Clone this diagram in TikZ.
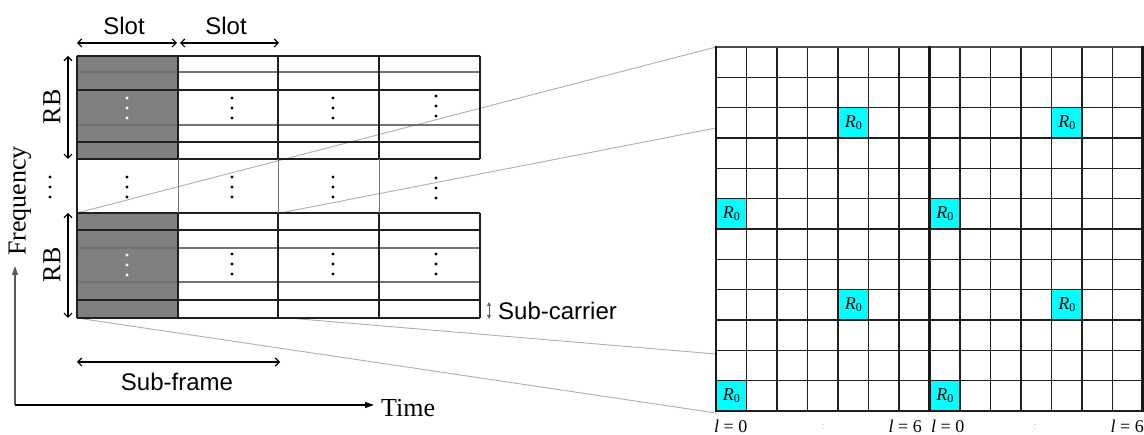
\documentclass[tikz,border=0pt]{standalone}
\usepackage{fontspec}
\setmainfont{Liberation Serif}
\newfontfamily\sansfam{Liberation Sans}
\usetikzlibrary{arrows.meta}
\definecolor{rbshade}{RGB}{128,128,128}
\definecolor{zoomgray}{RGB}{175,175,175}
\definecolor{pilot}{RGB}{0,255,255}
\definecolor{midgray}{RGB}{115,115,115}
\newcommand{\Rzero}{{\fontsize{18}{18}\selectfont\itshape R}\raisebox{-0.45ex}{\fontsize{12}{12}\selectfont 0}}
\begin{document}
\begin{tikzpicture}[x=1pt,y=-1pt,
  gridline/.style={line width=1.3pt,black!88},
  softline/.style={line width=1.6pt,midgray},
  boldline/.style={line width=2.6pt,black!90},
  zoomline/.style={line width=0.9pt,zoomgray},
  dimarrow/.style={line width=1.2pt,{Straight Barb[length=4pt,width=8pt]}-{Straight Barb[length=4pt,width=8pt]}},
  axisarrow/.style={line width=1.2pt,-{Triangle[length=9pt,width=6pt]}},
  sanslabel/.style={font=\sansfam\fontsize{24}{24}\selectfont,inner sep=0pt},
  seriflabel/.style={font=\fontsize{26}{26}\selectfont,inner sep=0pt},
  idxlabel/.style={font=\fontsize{18}{18}\selectfont,inner sep=0pt},
  pilotcell/.style={minimum width=30.5pt,minimum height=30.33pt,inner sep=0pt,fill=pilot},
  vd/.pic={\fill (0,-10) circle (1.7pt) (0,0) circle (1.7pt) (0,10) circle (1.7pt);},
]
\useasboundingbox (0,0) rectangle (1144,435);

% ---- zoom guide lines (drawn first, grids go on top) ----
\coordinate (rb2-tl) at (77,213);
\coordinate (rb2-tm) at (280,213);
\coordinate (rb2-bl) at (77,318);
\coordinate (rb2-bm) at (288,318);
\coordinate (g-a) at (716,47);
\coordinate (g-b) at (716,128);
\coordinate (g-c) at (716,413);
\coordinate (g-d) at (716,354);
\draw[zoomline] (rb2-tl) -- (g-a);
\draw[zoomline] (rb2-tm) -- (g-b);
\draw[zoomline] (rb2-bl) -- (g-c);
\draw[zoomline] (rb2-bm) -- (g-d);

% ---- resource blocks (left) ----
\fill[rbshade] (77,56) rectangle (178,159);
\fill[rbshade] (77,213) rectangle (178,318);
% sub-carrier lines inside the two RBs
\foreach \y in {72,125,248,282} \draw[softline] (77,\y) -- (480,\y);
\foreach \y in {90,142,230,300} \draw[gridline] (77,\y) -- (480,\y);
% outer and slot borders
\foreach \y in {56,159,213,318} \draw[gridline] (77,\y) -- (480,\y);
\draw[gridline] (77,56) -- (77,318);
\foreach \x in {178,278,379,480} {
  \draw[gridline] (\x,56) -- (\x,159);
  \draw[gridline] (\x,213) -- (\x,318);
}
\foreach \x in {178,278,379} \draw[line width=1pt,black!55] (\x,159) -- (\x,213);

% vertical ellipses
\pic[white] at (127,108) {vd};
\pic[white] at (127,265) {vd};
\foreach \x/\y in {232/108,333/108,436/106,
                   127/187,232/187,333/187,436/188,
                   232/264,333/264,436/264,
                   50/187} \pic at (\x,\y) {vd};

% ---- dimension arrows and labels ----
\coordinate (s1a) at (77,43);  \coordinate (s1b) at (177,43);
\coordinate (s2a) at (180,43); \coordinate (s2b) at (279,43);
\draw[dimarrow] (s1a) -- (s1b);
\draw[dimarrow] (s2a) -- (s2b);
\node[sanslabel] (slot1) at (124,26) {Slot};
\node[sanslabel] (slot2) at (226,26) {Slot};

\coordinate (rb1a) at (68,56);  \coordinate (rb1b) at (68,159);
\coordinate (rb2a) at (68,213); \coordinate (rb2b) at (68,318);
\draw[dimarrow] (rb1a) -- (rb1b);
\draw[dimarrow] (rb2a) -- (rb2b);
\node[seriflabel,rotate=90] (rblab1) at (52,107) {RB};
\node[seriflabel,rotate=90] (rblab2) at (52,265) {RB};

\coordinate (sf-a) at (77,362); \coordinate (sf-b) at (280,362);
\draw[dimarrow] (sf-a) -- (sf-b);
\node[sanslabel] (subframe) at (177,382) {Sub-frame};

\coordinate (sc-a) at (489,302); \coordinate (sc-b) at (489,319);
\draw[line width=1pt,black!60,{Triangle[length=4pt,width=4pt]}-{Triangle[length=4pt,width=4pt]}] (sc-a) -- (sc-b);
\node[sanslabel,anchor=west] (subcarrier) at (498,311) {Sub-carrier};

% ---- axes ----
\coordinate (origin) at (15,405);
\coordinate (f-end) at (15,266);
\coordinate (t-end) at (374,405);
\draw[axisarrow,black!65] (origin) -- (f-end);
\draw[axisarrow] (origin) -- (t-end);
\node[seriflabel,rotate=90] (freq) at (20,201) {Frequency};
\node[seriflabel,anchor=west] (time) at (381,408) {Time};

% ---- resource grid of one RB pair (right) ----
\foreach \r/\c/\n in {2/4/a,2/11/b,5/0/c,5/7/d,8/4/e,8/11/f,11/0/g,11/7/h}
  \node[pilotcell] (pilot-\n) at ({716+(\c+0.5)*30.5},{47+(\r+0.5)*30.333}) {\Rzero};
\foreach \c in {1,...,6,8,9,...,13} \draw[gridline] ({716+\c*30.5},47) -- ({716+\c*30.5},411);
\foreach \r in {1,...,11} \draw[gridline] (716,{47+\r*30.333}) -- (1143,{47+\r*30.333});
\draw[gridline,black!70] (716,47) -- (1143,47);
\draw[gridline] (716,411) -- (1143,411);
\foreach \x in {716,929.5,1142.5} \draw[boldline] (\x,46) -- (\x,412);

% symbol index labels
\node[idxlabel,anchor=west] (l0a) at (714,426) {\textit{l} = 0};
\node[idxlabel,anchor=east] (l6a) at (922,426) {\textit{l} = 6};
\node[idxlabel,anchor=west] (l0b) at (931,426) {\textit{l} = 0};
\node[idxlabel,anchor=east] (l6b) at (1144,426) {\textit{l} = 6};
\node[font=\fontsize{10}{10}\selectfont,text=black!30,inner sep=0pt] (gapa) at (823,427) {:};
\node[font=\fontsize{10}{10}\selectfont,text=black!30,inner sep=0pt] (gapb) at (1035,427) {:};
\end{tikzpicture}
\end{document}
